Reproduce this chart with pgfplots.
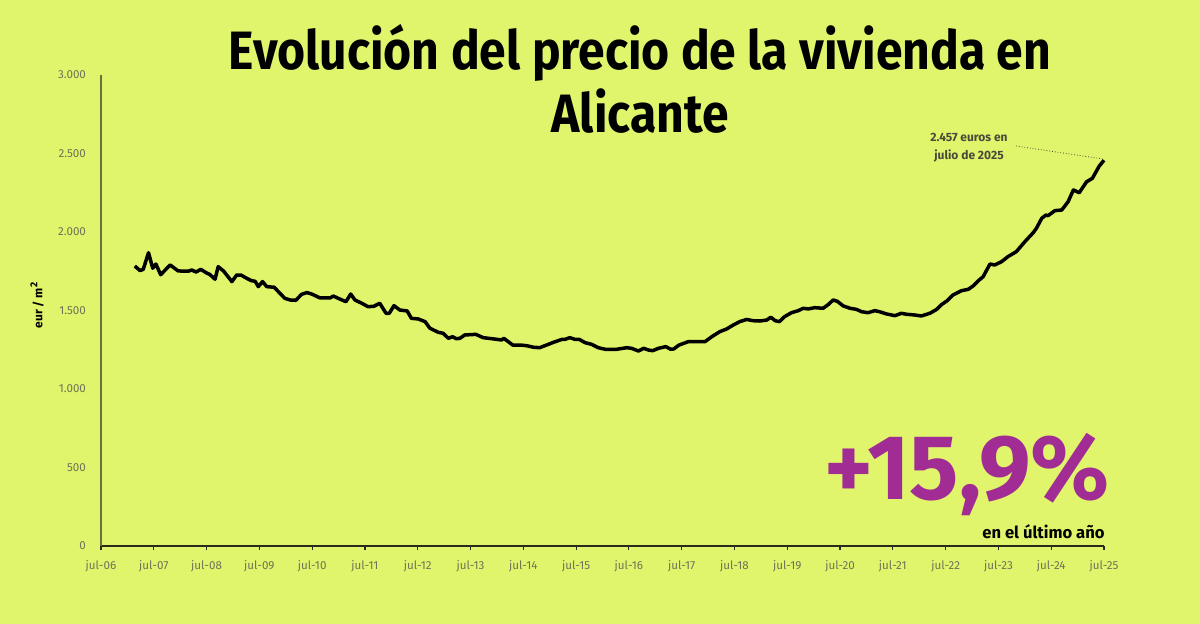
\documentclass[border=0pt]{standalone}
\usepackage{fontspec}
\setmainfont{Fira Sans}
\newfontfamily\titlefont[FakeStretch=0.89]{Fira Sans}
\usepackage{pgfplots}
\pgfplotsset{compat=1.18}
\definecolor{bg}{RGB}{225,245,108}
\definecolor{ticklab}{RGB}{110,114,88}
\definecolor{yaxis}{RGB}{105,112,60}
\definecolor{xaxis}{RGB}{40,42,30}
\definecolor{mag}{RGB}{161,44,147}
\definecolor{annot}{RGB}{72,74,58}
\begin{document}
\begin{tikzpicture}
\fill[bg] (0,0) rectangle (600pt,312pt);
\useasboundingbox (0,0) rectangle (600pt,312pt);
\begin{axis}[
  at={(50.5pt,39pt)}, anchor=south west,
  scale only axis, width=501.5pt, height=235.5pt,
  xmin=2006.5, xmax=2025.5, ymin=0, ymax=3000,
  axis lines*=left,
  x axis line style={draw=xaxis, line width=0.6pt},
  y axis line style={draw=yaxis, line width=0.6pt},
  xtick={2006.5,2007.5,2008.5,2009.5,2010.5,2011.5,2012.5,2013.5,2014.5,2015.5,2016.5,2017.5,2018.5,2019.5,2020.5,2021.5,2022.5,2023.5,2024.5,2025.5},
  xticklabels={jul-06,jul-07,jul-08,jul-09,jul-10,jul-11,jul-12,jul-13,jul-14,jul-15,jul-16,jul-17,jul-18,jul-19,jul-20,jul-21,jul-22,jul-23,jul-24,jul-25},
  ytick={0,500,1000,1500,2000,2500,3000},
  yticklabels={0,500,1.000,1.500,2.000,2.500,3.000},
  tick align=outside, major tick length=2pt,
  xtick style={draw=xaxis, line width=0.6pt},
  ytick style={draw=none},
  ticklabel style={font=\fontsize{5.8}{6.5}\selectfont, text=ticklab},
  xticklabel style={yshift=-1.5pt},
  yticklabel style={xshift=-2pt},
  clip=false,
]
\addplot[black, line width=1.75pt, line join=round] coordinates {
(2007.14,1783)(2007.24,1754)(2007.30,1762)(2007.40,1868)(2007.48,1769)(2007.54,1796)
(2007.63,1728)(2007.81,1790)(2007.96,1752)(2008.15,1750)(2008.22,1758)(2008.30,1745)
(2008.39,1762)(2008.51,1737)(2008.56,1730)(2008.66,1699)(2008.72,1779)(2008.82,1752)
(2008.98,1684)(2009.07,1726)(2009.15,1726)(2009.26,1705)(2009.35,1690)(2009.42,1686)
(2009.48,1652)(2009.56,1684)(2009.64,1652)(2009.78,1648)(2009.98,1578)(2010.08,1567)
(2010.19,1565)(2010.30,1603)(2010.40,1614)(2010.49,1605)(2010.65,1580)(2010.84,1580)
(2010.90,1592)(2010.99,1578)(2011.14,1556)(2011.23,1605)(2011.31,1567)(2011.44,1546)
(2011.56,1524)(2011.67,1527)(2011.78,1546)(2011.90,1482)(2011.96,1482)(2012.05,1531)
(2012.16,1503)(2012.30,1497)(2012.38,1450)(2012.51,1446)(2012.64,1429)(2012.73,1387)
(2012.89,1361)(2012.98,1355)(2013.08,1323)(2013.16,1333)(2013.23,1320)(2013.30,1323)
(2013.39,1344)(2013.60,1348)(2013.74,1327)(2013.96,1318)(2014.09,1312)(2014.13,1323)
(2014.30,1280)(2014.44,1280)(2014.56,1276)(2014.69,1266)(2014.81,1263)(2014.94,1280)
(2015.07,1297)(2015.23,1316)(2015.29,1316)(2015.38,1327)(2015.48,1316)(2015.56,1316)
(2015.67,1295)(2015.79,1285)(2015.92,1263)(2016.05,1253)(2016.27,1253)(2016.46,1263)
(2016.55,1259)(2016.68,1242)(2016.78,1259)(2016.87,1248)(2016.95,1244)(2017.06,1259)
(2017.20,1270)(2017.29,1253)(2017.35,1255)(2017.45,1280)(2017.62,1301)(2017.94,1301)
(2018.07,1333)(2018.22,1365)(2018.35,1382)(2018.48,1408)(2018.60,1429)(2018.73,1443)
(2018.85,1435)(2018.98,1433)(2019.11,1439)(2019.19,1457)(2019.27,1435)(2019.35,1429)
(2019.45,1461)(2019.58,1486)(2019.71,1499)(2019.80,1514)(2019.90,1510)(2020.02,1518)
(2020.18,1514)(2020.28,1539)(2020.37,1567)(2020.45,1558)(2020.56,1529)(2020.69,1514)
(2020.81,1507)(2020.91,1492)(2021.03,1486)(2021.16,1499)(2021.25,1492)(2021.38,1478)
(2021.54,1467)(2021.66,1482)(2021.76,1476)(2021.92,1471)(2022.04,1465)(2022.20,1482)
(2022.33,1507)(2022.42,1537)(2022.52,1560)(2022.64,1599)(2022.80,1626)(2022.93,1635)
(2023.02,1656)(2023.12,1690)(2023.21,1715)(2023.34,1796)(2023.43,1790)(2023.56,1811)
(2023.68,1843)(2023.84,1875)(2024.00,1938)(2024.16,1996)(2024.22,2024)(2024.32,2087)
(2024.40,2108)(2024.44,2104)(2024.57,2136)(2024.70,2140)(2024.82,2193)(2024.92,2268)
(2025.03,2250)(2025.17,2320)(2025.28,2342)(2025.41,2420)(2025.50,2457)
};
\end{axis}
% y label
\node[rotate=90, font=\fontsize{6}{7}\selectfont\bfseries, text=black] at (18.5pt,159.5pt) {eur / m\textsuperscript{2}};
% title
\node[anchor=base, font=\titlefont\bfseries\fontsize{27}{30}\selectfont] at (320pt,277pt) {Evolución del precio de la vivienda en};
\node[anchor=base, font=\titlefont\bfseries\fontsize{27}{30}\selectfont] at (320pt,245.5pt) {Alicante};
% annotation
\node[anchor=base, font=\fontsize{6}{7}\selectfont\bfseries, text=annot] at (484.5pt,241pt) {2.457 euros en};
\node[anchor=base, font=\fontsize{6}{7}\selectfont\bfseries, text=annot] at (484.5pt,232pt) {julio de 2025};
\draw[annot, densely dotted, line width=0.4pt] (508pt,239pt) -- (551.5pt,232.5pt);
% big number
\node[anchor=base east, inner sep=0pt, font=\bfseries\fontsize{46}{50}\selectfont, text=mag] at (555pt,62pt) {+15,9\%};
\node[anchor=base east, inner sep=0pt, font=\bfseries\fontsize{8.3}{9}\selectfont, text=black] at (552.5pt,42.5pt) {en el último año};
\end{tikzpicture}
\end{document}
